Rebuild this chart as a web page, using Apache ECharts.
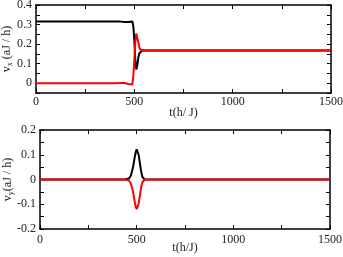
<!DOCTYPE html>
<html><head><meta charset="utf-8">
<script src="https://cdn.jsdelivr.net/npm/echarts@6/dist/echarts.min.js"></script>
<style>html,body{margin:0;padding:0;background:#fff}#c{width:343px;height:257px}</style>
</head><body><div id="c"></div>
<script>
// time samples (h/J)
var tTop = [0, 100, 200, 300, 400, 430, 450, 460, 470, 480, 490, 495, 500, 505, 510, 515, 520, 525, 530, 540, 550, 560, 600, 800, 1000, 1200, 1500];
var vxBlack = [0.315, 0.315, 0.315, 0.315, 0.315, 0.315, 0.313, 0.311, 0.313, 0.319, 0.316, 0.29, 0.22, 0.12, 0.07, 0.09, 0.13, 0.152, 0.162, 0.167, 0.167, 0.167, 0.167, 0.167, 0.167, 0.167, 0.167];
var vxRed = [0, 0, 0, 0, 0, 0.001, 0.001, 0, -0.004, -0.011, -0.006, 0.04, 0.12, 0.21, 0.255, 0.245, 0.21, 0.185, 0.172, 0.167, 0.167, 0.167, 0.167, 0.167, 0.167, 0.167, 0.167];
var tBot = [0, 100, 200, 300, 400, 440, 450, 460, 470, 480, 490, 495, 500, 505, 510, 515, 520, 525, 530, 540, 550, 600, 800, 1000, 1200, 1500];
var vyBlack = [0, 0, 0, 0, 0, 0, 0.001, 0.004, 0.016, 0.045, 0.09, 0.11, 0.122, 0.118, 0.1, 0.075, 0.048, 0.025, 0.01, 0.001, 0, 0, 0, 0, 0, 0];
var vyRed = [0, 0, 0, 0, 0, 0, -0.001, -0.004, -0.016, -0.045, -0.09, -0.11, -0.12, -0.116, -0.098, -0.073, -0.047, -0.024, -0.01, -0.001, 0, 0, 0, 0, 0, 0];
var xTicks = [0, 500, 1000, 1500];
var vxTicks = [0, 0.1, 0.2, 0.3, 0.4];
var vyTicks = [-0.2, -0.1, 0, 0.1, 0.2];

function zip(t, v) { return t.map(function (x, i) { return [x, v[i]]; }); }
var FONT = 'Liberation Serif';
var TXT = '#222';
function fmtY(v) {
  if (Math.abs(v * 10 - Math.round(v * 10)) > 1e-6) return '';
  if (Math.abs(v) < 1e-9) return '0';
  return v.toFixed(1);
}
function fmtX(v) { return (v % 500 === 0) ? String(v) : ''; }
var axLine = { show: true, onZero: false, lineStyle: { color: '#000', width: 1.5 } };
var tick = { show: true, inside: true, length: 4, lineStyle: { color: '#000', width: 1 } };

function xAx(grid, margin, nameGap, name, pos) {
  var main = pos === 'bottom';
  return {
    type: 'value', gridIndex: grid, position: pos, min: 0, max: 1500, interval: 250,
    axisLine: axLine, axisTick: tick, splitLine: { show: false },
    axisLabel: { show: main, margin: margin, formatter: fmtX, color: TXT, fontFamily: FONT, fontSize: 12 },
    name: main ? name : '', nameLocation: 'middle', nameGap: nameGap, nameMoveOverlap: false,
    nameTextStyle: { color: TXT, fontFamily: FONT, fontSize: 12 }
  };
}
function yAx(grid, min, max, nameGap, sub, pos) {
  var main = pos === 'left';
  return {
    type: 'value', gridIndex: grid, position: pos, min: min, max: max, interval: 0.05,
    axisLine: axLine, axisTick: tick, splitLine: { show: false },
    axisLabel: { show: main, margin: 4, formatter: fmtY, color: TXT, fontFamily: FONT, fontSize: 12 },
    name: main ? '{a|v}{s|' + sub + '}{a|' + (sub === 'x' ? ' (aJ / h)' : '(aJ / h)') + '}' : '',
    nameLocation: 'middle', nameGap: nameGap, nameRotate: 90, nameMoveOverlap: false,
    nameTextStyle: {
      color: TXT, fontFamily: FONT, fontSize: 12,
      rich: {
        a: { fontFamily: FONT, fontSize: 12, color: TXT },
        s: { fontFamily: FONT, fontSize: 8, color: TXT, padding: [6, 0, 0, 0] }
      }
    }
  };
}
function line(xi, yi, data, color, z) {
  return { type: 'line', xAxisIndex: xi, yAxisIndex: yi, data: data, showSymbol: false, symbol: 'none',
    lineStyle: { color: color, width: 2 }, itemStyle: { color: color }, z: z, animation: false, clip: true };
}

var chart = echarts.init(document.getElementById('c'), null, { renderer: 'canvas' });
chart.setOption({
  animation: false,
  backgroundColor: '#fff',
  grid: [
    { left: 36, right: 12, top: 5, height: 88, containLabel: false, outerBoundsMode: 'none' },
    { left: 40, right: 13, top: 130, height: 99, containLabel: false, outerBoundsMode: 'none' }
  ],
  xAxis: [
    xAx(0, 3, 14, 't(h/ J)', 'bottom'),
    xAx(1, 5, 13, 't(h/J)', 'bottom'),
    xAx(0, 3, 14, '', 'top'),
    xAx(1, 5, 13, '', 'top')
  ],
  yAxis: [
    yAx(0, -0.05, 0.4, 22, 'x', 'left'),
    yAx(1, -0.2, 0.2, 25, 'y', 'left'),
    yAx(0, -0.05, 0.4, 22, 'x', 'right'),
    yAx(1, -0.2, 0.2, 25, 'y', 'right')
  ],
  series: [
    line(0, 0, zip(tTop, vxBlack), '#000000', 2),
    line(0, 0, zip(tTop, vxRed), '#ff0000', 3),
    line(1, 1, zip(tBot, vyBlack), '#000000', 2),
    line(1, 1, zip(tBot, vyRed), '#ff0000', 3)
  ]
});
</script></body></html>
